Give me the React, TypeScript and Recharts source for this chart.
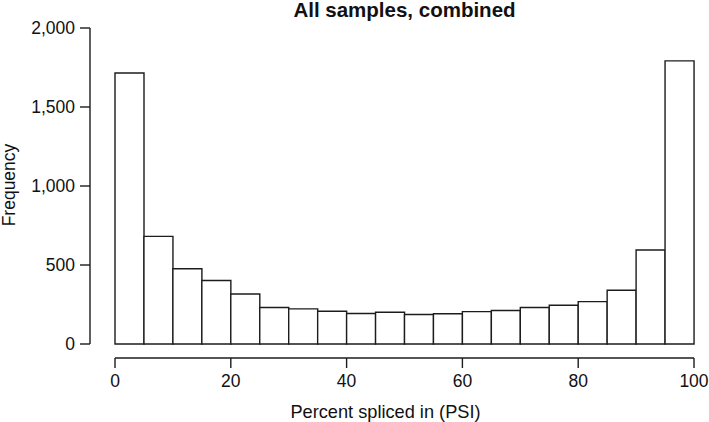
import { Bar, BarChart, XAxis, YAxis } from 'recharts';

// histogram bins of PSI (lower edge of each 5-wide bin) and their counts
const BIN_STARTS = [0, 5, 10, 15, 20, 25, 30, 35, 40, 45, 50, 55, 60, 65, 70, 75, 80, 85, 90, 95];
const COUNTS = [1715, 681, 476, 402, 316, 231, 222, 207, 193, 201, 187, 191, 205, 212, 231, 245, 268, 340, 595, 1792];
const BIN_WIDTH = 5;

const X_TICKS = [0, 20, 40, 60, 80, 100];
const Y_TICKS = [0, 500, 1000, 1500, 2000];

const FONT = '"Liberation Sans", Arial, Helvetica, sans-serif';
const INK = '#1c1c1c';

const data = BIN_STARTS.map((start, i) => ({ mid: start + BIN_WIDTH / 2, count: COUNTS[i] }));

export default function App() {
  return (
    <div style={{ position: 'absolute', left: 0, top: 0, width: 709, height: 422, background: '#fff', fontFamily: FONT }}>
      <div
        style={{
          position: 'absolute',
          left: 115,
          width: 579,
          top: 0,
          textAlign: 'center',
          fontWeight: 700,
          fontSize: 20.5,
          lineHeight: '19px',
          color: '#111',
        }}
      >
        All samples, combined
      </div>
      <BarChart
        width={709}
        height={422}
        data={data}
        margin={{ top: 28, right: 15, bottom: 0, left: 0 }}
        barCategoryGap={0}
        barGap={0}
      >
        {/* empty axes only used to detach the visible axes from the plot, R style */}
        <XAxis xAxisId="gap" type="number" domain={[0, 1]} height={14} tick={false} tickLine={false} axisLine={false} />
        <XAxis
          xAxisId="main"
          dataKey="mid"
          type="number"
          domain={[0, 100]}
          ticks={X_TICKS}
          height={64}
          tickSize={10}
          tickMargin={7}
          axisLine={{ stroke: INK, strokeWidth: 1.4 }}
          tickLine={{ stroke: INK, strokeWidth: 1.4 }}
          tick={{ fill: '#111', fontSize: 17.5, fontFamily: FONT }}
          label={{
            content: ({ viewBox }: any) => (
              <text
                x={viewBox.x + viewBox.width / 2 - 19}
                y={viewBox.y + viewBox.height - 4.5}
                textAnchor="middle"
                fill="#111"
                fontSize={18.2}
                fontFamily={FONT}
              >
                Percent spliced in (PSI)
              </text>
            ),
          }}
        />
        <YAxis yAxisId="gap" width={25} tick={false} tickLine={false} axisLine={false} />
        <YAxis
          yAxisId="main"
          type="number"
          domain={[0, 2000]}
          ticks={Y_TICKS}
          width={90}
          tickSize={10}
          tickMargin={5}
          axisLine={{ stroke: INK, strokeWidth: 1.4 }}
          tickLine={{ stroke: INK, strokeWidth: 1.4 }}
          tick={{ fill: '#111', fontSize: 17.5, fontFamily: FONT }}
          tickFormatter={(v: number) => v.toLocaleString('en-US')}
          label={{
            content: ({ viewBox }: any) => {
              const cy = viewBox.y + viewBox.height / 2 - 1;
              const cx = viewBox.x + 15;
              return (
                <text
                  x={cx}
                  y={cy}
                  transform={`rotate(-90, ${cx}, ${cy})`}
                  textAnchor="middle"
                  fill="#111"
                  fontSize={17.5}
                  fontFamily={FONT}
                >
                  Frequency
                </text>
              );
            },
          }}
        />
        <Bar
          dataKey="count"
          xAxisId="main"
          yAxisId="main"
          fill="#fff"
          stroke={INK}
          strokeWidth={1.4}
          isAnimationActive={false}
        />
      </BarChart>
    </div>
  );
}
